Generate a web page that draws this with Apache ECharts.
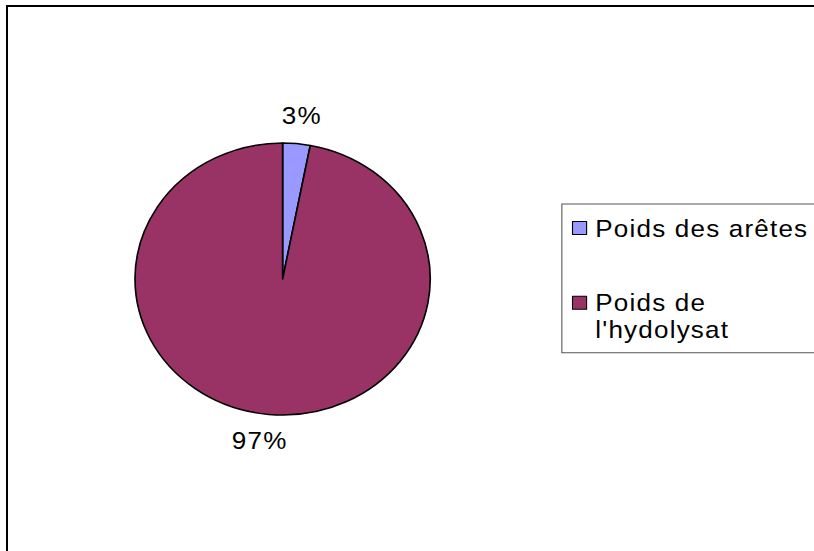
<!DOCTYPE html>
<html>
<head>
<meta charset="utf-8">
<script src="https://cdn.jsdelivr.net/npm/echarts@6/dist/echarts.min.js"></script>
<style>
html,body{margin:0;padding:0;background:#fff;overflow:hidden;width:814px;height:551px;position:relative;}
#c{position:absolute;left:0;top:0;width:750px;height:551px;transform:scaleX(1.0853);transform-origin:0 0;}
#c text{letter-spacing:1.1px;}
#ftop{position:absolute;left:6px;top:5px;width:808px;height:2px;background:#000;z-index:2;}
#fleft{position:absolute;left:6px;top:5px;width:2px;height:546px;background:#000;z-index:2;}
</style>
</head>
<body>
<div id="c"></div>
<div id="ftop"></div>
<div id="fleft"></div>
<script>
const categories = ['Poids des arêtes', "Poids de\nl'hydolysat"];
const values = [3, 97];
const colors = ['#9999FF', '#993366'];

const FONT = "'Liberation Sans', Arial, sans-serif";
const mainData = categories.map((n, i) => ({ name: n, value: values[i], itemStyle: { color: colors[i] } }));
const labelOffsets = [[2.2, 0.3], [-5.6, -3.3]];
const labelData = categories.map((n, i) => ({ name: n, value: values[i], label: { offset: labelOffsets[i] } }));

const chart = echarts.init(document.getElementById('c'), null, { renderer: 'svg' });
chart.setOption({
  backgroundColor: '#fff',
  animation: false,
  legend: {
    orient: 'vertical',
    left: 517.7, top: 204,
    padding: [10.5, 40, 9.5, 9.3],
    itemGap: 20.7,
    itemWidth: 13, itemHeight: 13,
    borderColor: '#555', borderWidth: 1,
    selectedMode: false,
    icon: 'rect',
    itemStyle: { borderColor: '#000', borderWidth: 1 },
    textStyle: { fontFamily: FONT, fontSize: 24, color: '#000', lineHeight: 27, padding: [0, 0, 0, 3] },
    formatter: name => (name === categories[1] ? '\n' + name : name),
    data: categories
  },
  series: [
    {
      type: 'pie',
      center: [260.4, 279],
      radius: 136,
      startAngle: 90,
      clockwise: true,
      silent: true,
      itemStyle: { borderColor: '#000', borderWidth: 1.5 },
      label: { show: false },
      labelLine: { show: false },
      emphasis: { disabled: true },
      data: mainData
    },
    {
      type: 'pie',
      center: [260.4, 279],
      radius: [136, 188],
      startAngle: 90,
      clockwise: true,
      silent: true,
      itemStyle: { color: 'rgba(0,0,0,0)', borderWidth: 0 },
      label: { show: true, position: 'inside', formatter: '{d}%', fontFamily: FONT, fontSize: 24, color: '#000' },
      labelLine: { show: false },
      emphasis: { disabled: true },
      data: labelData
    }
  ]
});
</script>
</body>
</html>
